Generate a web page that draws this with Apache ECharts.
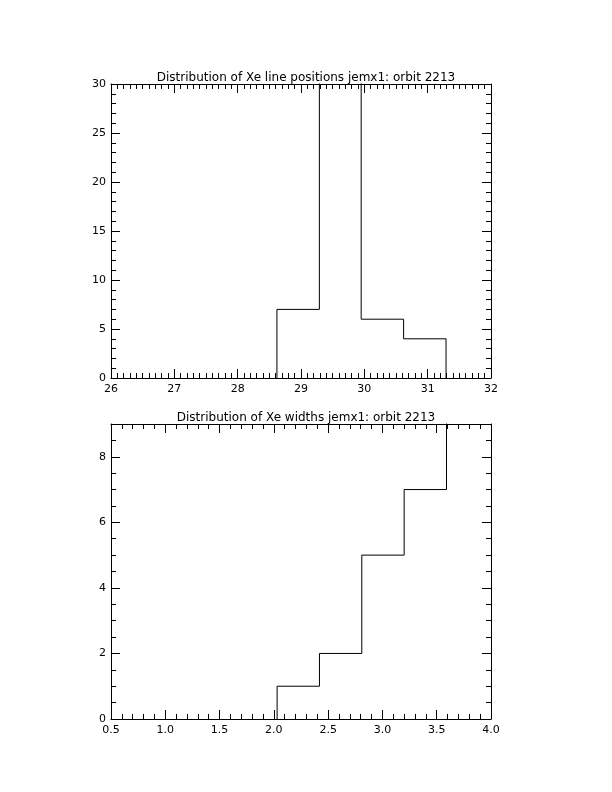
<!DOCTYPE html>
<html><head><meta charset="utf-8">
<script src="https://cdn.jsdelivr.net/npm/echarts@6/dist/echarts.min.js"></script>
<style>html,body{margin:0;padding:0;background:#fff}#c{width:612px;height:792px}</style>
</head><body><div id="c"></div>
<script>
// Top panel: Xe line positions
const posTitle = 'Distribution of Xe line positions jemx1: orbit 2213';
const posEdges = [28.62, 29.29, 29.95, 30.62, 31.29];
const posCounts = [7, 40, 6, 4];
// Bottom panel: Xe widths
const widTitle = 'Distribution of Xe widths jemx1: orbit 2213';
const widEdges = [2.03, 2.42, 2.81, 3.20, 3.59, 3.98, 4.37];
const widCounts = [1, 2, 5, 7, 11, 10];

function stepPoints(edges, counts){
  const pts = [[edges[0], 0]];
  for (let i = 0; i < counts.length; i++){
    pts.push([edges[i], counts[i]]);
    pts.push([edges[i+1], counts[i]]);
  }
  pts.push([edges[edges.length-1], 0]);
  return pts;
}

const FONT = 'DejaVu Sans';
const black = '#000';
function xAx(grid, min, max, interval, minorSplit, mirror, decimals){
  return {
    type:'value', gridIndex:grid, min:min, max:max, interval:interval,
    position: mirror ? 'top' : 'bottom',
    axisLine:{show:true, onZero:false, lineStyle:{color:black, width:1}},
    axisTick:{show:true, inside:true, length:9, lineStyle:{color:black}},
    minorTick:{show:true, splitNumber:minorSplit, length:5, lineStyle:{color:black}},
    splitLine:{show:false},
    axisLabel:{show:!mirror, color:black, fontFamily:FONT, fontSize:11, margin:6,
      showMinLabel:true, showMaxLabel:true,
      formatter: v => decimals ? v.toFixed(decimals) : String(Math.round(v))}
  };
}
function yAx(grid, min, max, interval, minorSplit, mirror, showMax){
  return {
    type:'value', gridIndex:grid, min:min, max:max, interval:interval,
    position: mirror ? 'right' : 'left',
    axisLine:{show:true, onZero:false, lineStyle:{color:black, width:1}},
    axisTick:{show:true, inside:true, length:9, lineStyle:{color:black}},
    minorTick:{show:true, splitNumber:minorSplit, length:5, lineStyle:{color:black}},
    splitLine:{show:false},
    axisLabel:{show:!mirror, color:black, fontFamily:FONT, fontSize:11, margin:5,
      showMinLabel:true, showMaxLabel:showMax,
      formatter: v => (Math.abs(v - Math.round(v/interval)*interval) < 1e-9) ? String(v) : ''}
  };
}

const chart = echarts.init(document.getElementById('c'), null, {renderer:'canvas'});
chart.setOption({
  animation:false,
  backgroundColor:'#fff',
  title:[
    {text:posTitle, left:301, top:67, textAlign:'center',
     textStyle:{fontFamily:FONT, fontSize:12, fontWeight:'normal', color:black}},
    {text:widTitle, left:301, top:407, textAlign:'center',
     textStyle:{fontFamily:FONT, fontSize:12, fontWeight:'normal', color:black}}
  ],
  grid:[
    {left:111, top:84, width:380, height:294},
    {left:111, top:424, width:380, height:295}
  ],
  xAxis:[
    xAx(0, 26, 32, 1, 10, false, 0),
    xAx(0, 26, 32, 1, 10, true, 0),
    xAx(1, 0.5, 4.0, 0.5, 5, false, 1),
    xAx(1, 0.5, 4.0, 0.5, 5, true, 1)
  ],
  yAxis:[
    yAx(0, 0, 30, 5, 5, false, true),
    yAx(0, 0, 30, 5, 5, true, true),
    yAx(1, 0, 9, 2, 4, false, false),
    yAx(1, 0, 9, 2, 4, true, false)
  ],
  series:[
    {type:'line', xAxisIndex:0, yAxisIndex:0, data:stepPoints(posEdges, posCounts),
     showSymbol:false, clip:true, lineStyle:{color:black, width:1}, silent:true},
    {type:'line', xAxisIndex:2, yAxisIndex:2, data:stepPoints(widEdges, widCounts),
     showSymbol:false, clip:true, lineStyle:{color:black, width:1}, silent:true}
  ]
});
</script></body></html>
